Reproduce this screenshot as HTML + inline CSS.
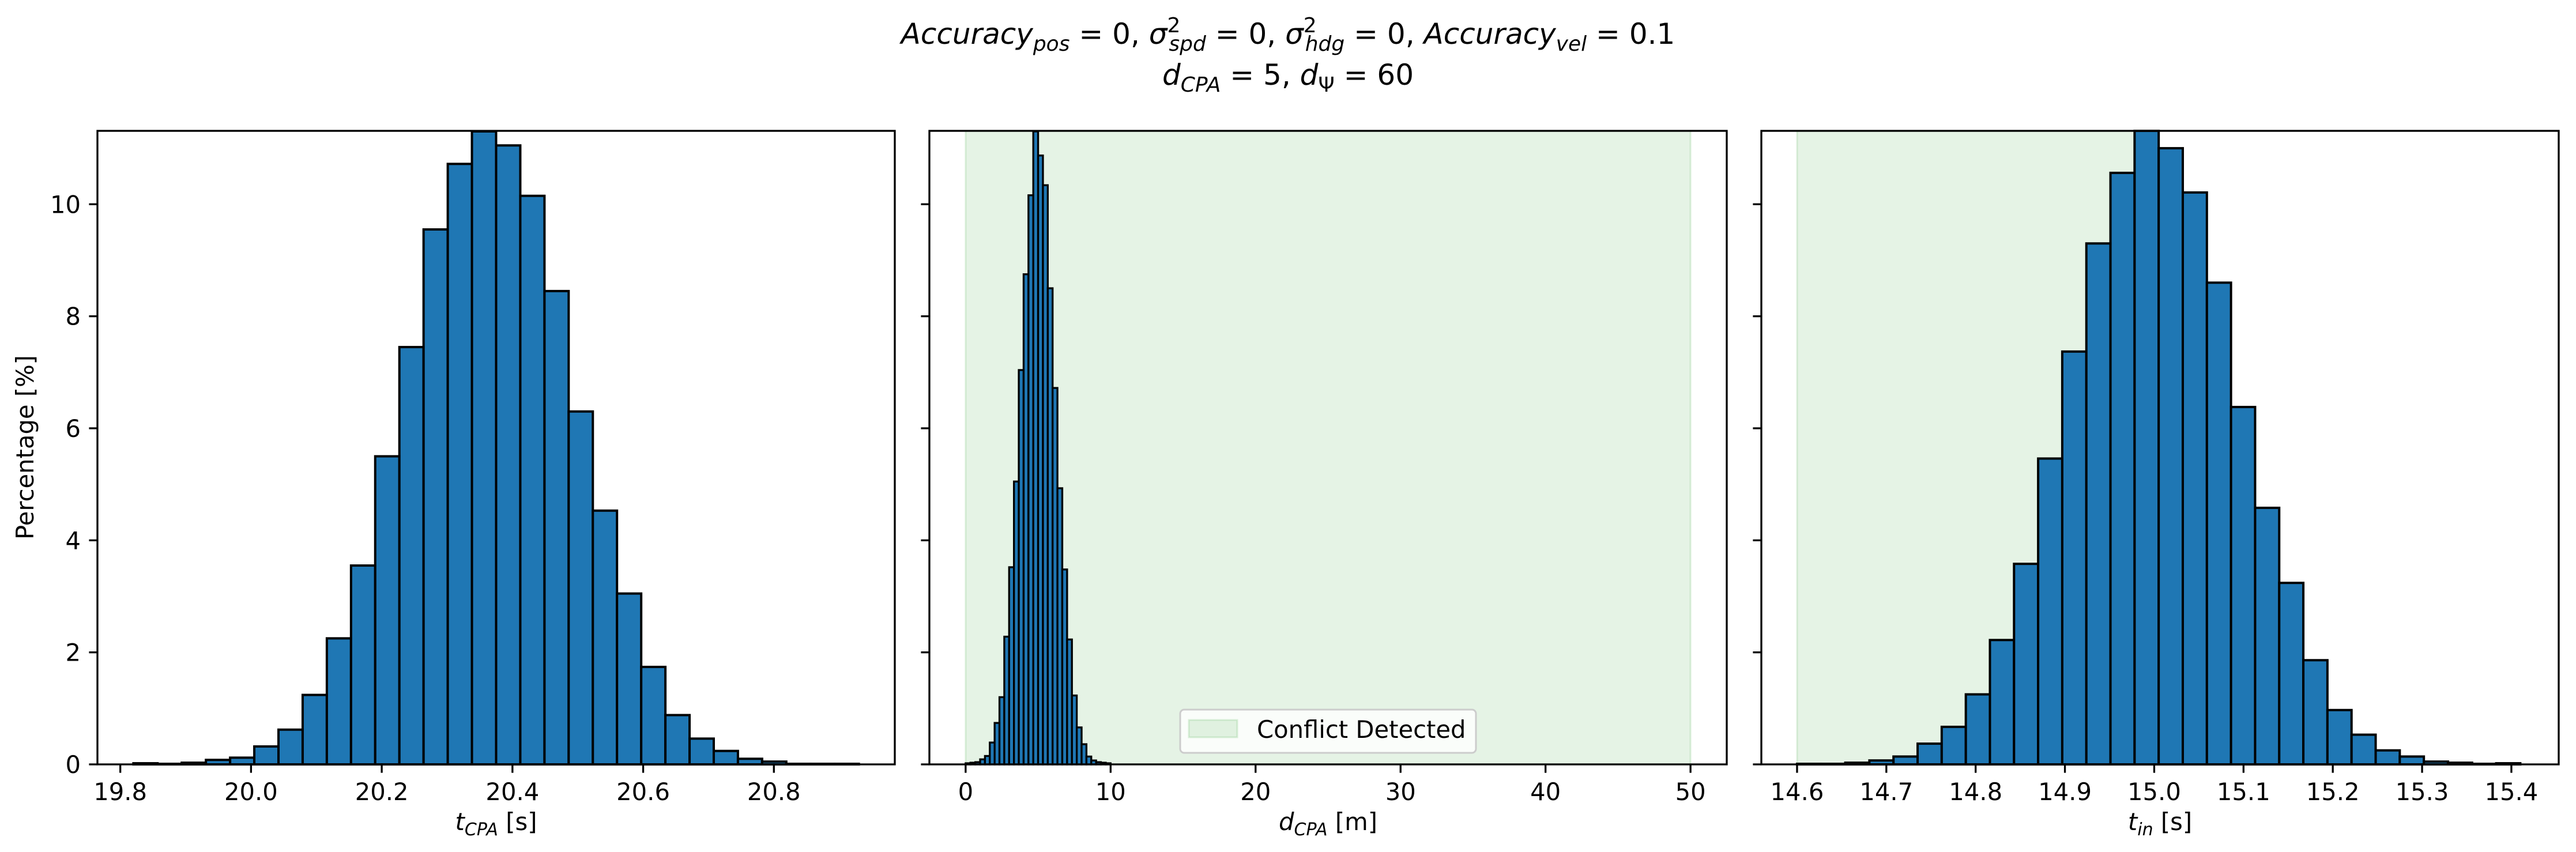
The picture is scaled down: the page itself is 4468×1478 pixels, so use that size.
<!DOCTYPE html>
<html><head><meta charset="utf-8"><style>
html,body{margin:0;padding:0;background:#fff;}
svg{display:block;font-family:"DejaVu Sans","Liberation Sans",sans-serif;}
</style></head><body>
<svg id="fig" width="4468" height="1478" viewBox="0 0 4468 1478" xmlns="http://www.w3.org/2000/svg">
<rect width="4468" height="1478" fill="#fff"/>
<g id="plots"></g>
<g font-style="italic" font-size="50" text-anchor="middle">
<text x="2234" y="76"><tspan>Accuracy</tspan><tspan font-size="36" dy="12">pos</tspan><tspan font-style="normal" dy="-12"> = 0, </tspan><tspan>σ</tspan><tspan font-size="36" font-style="normal" dy="-20">2</tspan><tspan font-size="36" dx="-20" dy="32">spd</tspan><tspan font-style="normal" dy="-12"> = 0, </tspan><tspan>σ</tspan><tspan font-size="36" font-style="normal" dy="-20">2</tspan><tspan font-size="36" dx="-20" dy="32">hdg</tspan><tspan font-style="normal" dy="-12"> = 0, </tspan><tspan>Accuracy</tspan><tspan font-size="36" dy="12">vel</tspan><tspan font-style="normal" dy="-12"> = 0.1</tspan></text>
<text x="2234" y="147"><tspan>d</tspan><tspan font-size="36" dy="12">CPA</tspan><tspan font-style="normal" dy="-12"> = 5, </tspan><tspan>d</tspan><tspan font-size="36" font-style="normal" dy="12">Ψ</tspan><tspan font-style="normal" dy="-12"> = 60</tspan></text>
</g>
</svg>
<script>
// ---- data ----
const yMax = 11.31;
const yTicks = [0, 2, 4, 6, 8, 10];
const tcpaStart = 19.82, tcpaBinWidth = 0.037;
const tcpaValues = [0.02,0.01,0.03,0.08,0.12,0.32,0.62,1.24,2.25,3.55,5.5,7.45,9.55,10.72,11.3,11.05,10.15,8.45,6.3,4.53,3.05,1.74,0.88,0.46,0.24,0.1,0.05,0.01,0.01,0.01];
const tcpaTicks = [19.8, 20.0, 20.2, 20.4, 20.6, 20.8];
const tcpaTickLabels = ["19.8","20.0","20.2","20.4","20.6","20.8"];
const dcpaStart = 0, dcpaBinWidth = 0.3333;
const dcpaValues = [0.02,0.03,0.04,0.09,0.15,0.39,0.74,1.2,2.28,3.52,5.05,7.04,8.75,10.16,11.3,10.87,10.34,8.5,6.72,4.93,3.48,2.23,1.23,0.66,0.36,0.14,0.07,0.04,0.03,0.02];
const dcpaTicks = [0, 10, 20, 30, 40, 50];
const dcpaTickLabels = ["0","10","20","30","40","50"];
const dcpaSpan = [0, 50];
const tinStart = 14.6, tinBinWidth = 0.027;
const tinValues = [0.01,0.01,0.03,0.07,0.14,0.37,0.67,1.25,2.22,3.58,5.46,7.37,9.3,10.56,11.31,11.0,10.21,8.6,6.38,4.58,3.24,1.86,0.97,0.53,0.25,0.14,0.05,0.03,0.01,0.02];
const tinTicks = [14.6,14.7,14.8,14.9,15.0,15.1,15.2,15.3,15.4];
const tinTickLabels = ["14.6","14.7","14.8","14.9","15.0","15.1","15.2","15.3","15.4"];
const tinSpan = [14.6, 14.99];

const NS = "http://www.w3.org/2000/svg";
const root = document.getElementById("plots");
const TOP = 227, BOT = 1326;
function mk(tag, attrs, parent){ const e=document.createElementNS(NS,tag); for(const k in attrs) e.setAttribute(k,attrs[k]); parent.appendChild(e); return e; }

function panel(cfg){
  const g = mk("g",{},root);
  
  
  const X = v => cfg.px0 + (v - cfg.xmin) / (cfg.xmax - cfg.xmin) * (cfg.px1 - cfg.px0);
  const Y = v => BOT - Math.min(v, yMax) / yMax * (BOT - TOP);
  if (cfg.span){
    const s = mk("rect",{x:X(cfg.span[0]),y:TOP,width:X(cfg.span[1])-X(cfg.span[0]),height:BOT-TOP,fill:"#2ca02c","fill-opacity":0.12,stroke:"#2ca02c","stroke-opacity":0.15,"stroke-width":3},g);
    
    
  }
  cfg.values.forEach((v,i)=>{
    const x0 = X(cfg.start + i*cfg.bw), x1 = X(cfg.start + (i+1)*cfg.bw);
    const r = mk("rect",{x:x0,y:Y(v),width:x1-x0,height:BOT-Y(v),fill:"#1f77b4",stroke:"#000","stroke-width":cfg.sw},g);
    
    
  });
  const fr = mk("rect",{x:cfg.px0,y:TOP,width:cfg.px1-cfg.px0,height:BOT-TOP,fill:"none",stroke:"#000","stroke-width":3.3},g);
  
  
  cfg.ticks.forEach((t,i)=>{
    mk("line",{x1:X(t),x2:X(t),y1:BOT,y2:BOT+14.6,stroke:"#000","stroke-width":3.3},g);
    const tl = mk("text",{x:X(t),y:BOT+62,"font-size":41.7,"text-anchor":"middle"},g);
    tl.textContent = cfg.tickLabels[i];
    
    
  });
  yTicks.forEach(t=>{
    mk("line",{x1:cfg.px0,x2:cfg.px0-14.6,y1:Y(t),y2:Y(t),stroke:"#000","stroke-width":3.3},g);
    if (cfg.yLabels){
      const tl = mk("text",{x:cfg.px0-29,y:Y(t)+15,"font-size":41.7,"text-anchor":"end"},g);
      tl.textContent = String(t);
      
      
    }
  });
  const xl = mk("text",{x:(cfg.px0+cfg.px1)/2,y:1440,"font-size":41.7,"text-anchor":"middle"},g);
  xl.innerHTML = cfg.xlabel;
  
  
  return {X,Y,g};
}

panel({name:"tcpa-panel",px0:169,px1:1552,xmin:19.765,xmax:20.985,start:tcpaStart,bw:tcpaBinWidth,values:tcpaValues,ticks:tcpaTicks,tickLabels:tcpaTickLabels,yLabels:true,sw:4,
  xlabel:'<tspan font-style="italic">t</tspan><tspan font-style="italic" font-size="30" dy="9">CPA</tspan><tspan dy="-9"> [s]</tspan>'});
panel({name:"dcpa-panel",px0:1612,px1:2995,xmin:-2.5,xmax:52.5,start:dcpaStart,bw:dcpaBinWidth,values:dcpaValues,ticks:dcpaTicks,tickLabels:dcpaTickLabels,span:dcpaSpan,yLabels:false,sw:3.3,
  xlabel:'<tspan font-style="italic">d</tspan><tspan font-style="italic" font-size="30" dy="9">CPA</tspan><tspan dy="-9"> [m]</tspan>'});
panel({name:"tin-panel",px0:3055,px1:4438,xmin:14.56,xmax:15.453,start:tinStart,bw:tinBinWidth,values:tinValues,ticks:tinTicks,tickLabels:tinTickLabels,span:tinSpan,yLabels:false,sw:4,
  xlabel:'<tspan font-style="italic">t</tspan><tspan font-style="italic" font-size="30" dy="9">in</tspan><tspan dy="-9"> [s]</tspan>'});

// y axis title
const yt = mk("text",{x:0,y:0,"font-size":41.7,"text-anchor":"middle",transform:"translate(58,776) rotate(-90)"},root);
yt.textContent = "Percentage [%]";



// legend
const lg = mk("g",{},root);


mk("rect",{x:2047,y:1231,width:513,height:75,rx:7,fill:"#fff","fill-opacity":0.8,stroke:"#ccc","stroke-width":3},lg);
const lp = mk("rect",{x:2062,y:1249,width:84,height:30,fill:"#2ca02c","fill-opacity":0.12,stroke:"#2ca02c","stroke-opacity":0.15,"stroke-width":3},lg);


const lt = mk("text",{x:2180,y:1280,"font-size":41.7},lg);
lt.textContent = "Conflict Detected";


</script>
</body></html>
